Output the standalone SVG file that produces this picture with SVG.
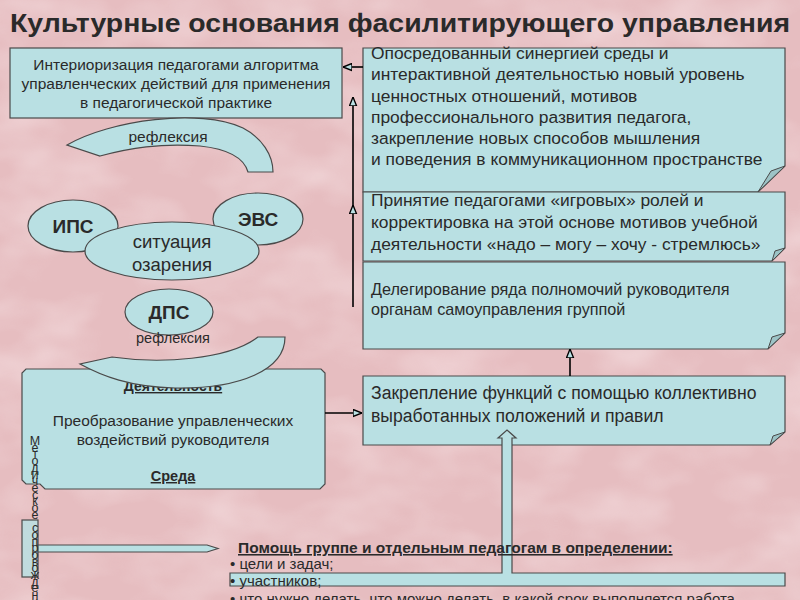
<svg xmlns="http://www.w3.org/2000/svg" width="800" height="600" viewBox="0 0 800 600">
<defs>
<filter id="tex" x="0" y="0" width="100%" height="100%">
<feTurbulence type="fractalNoise" baseFrequency="0.012 0.02" numOctaves="3" seed="7"/>
<feColorMatrix type="matrix" values="0 0 0 0 1  0 0 0 0 0.93  0 0 0 0 0.94  1.4 0 0 0 -0.55"/>
</filter>
<marker id="tri" viewBox="0 0 10 10" refX="10" refY="5" markerWidth="9" markerHeight="9" markerUnits="userSpaceOnUse" orient="auto">
<path d="M0,1 L10,5 L0,9 Z" fill="#b9e0e3" stroke="#000" stroke-width="1.5"/>
</marker>
<style>
.box{fill:#b9e0e3;stroke:#4a4a4a;stroke-width:1.2}
.fold{fill:#9cc3c6;stroke:#4a4a4a;stroke-width:1}
.t{font-family:"Liberation Sans",Arial,sans-serif;fill:#2a2a2a}
.c{text-anchor:middle}
.b{font-weight:bold}
.u{text-decoration:underline}
.ln{stroke:#000;stroke-width:1.6;fill:none}
.vert{writing-mode:vertical-rl;text-orientation:upright;letter-spacing:-7.3px}
</style>
</defs>
<rect width="800" height="600" fill="#e6bdc0"/>
<rect width="800" height="600" filter="url(#tex)" opacity="0.55"/>

<text class="t b" x="10" y="32" font-size="26" fill="#111" textLength="780" lengthAdjust="spacingAndGlyphs">Культурные основания фасилитирующего управления</text>

<g id="n-interior">
<rect class="box" x="10" y="48" width="332" height="70"/>
<text class="t c" font-size="15.5" fill="#333"><tspan x="176" y="70">Интериоризация педагогами алгоритма</tspan><tspan x="176" y="89">управленческих действий для применения</tspan><tspan x="176" y="108">в педагогической практике</tspan></text>
</g>

<g id="n-refl1">
<path class="box" d="M67,145 C110,120 200,108 243,128 C262,138 273,155 273,172 L248,172 C244,158 228,149 200,146 C160,143 130,148 100,156 Z"/>
<text class="t c" x="168" y="142" font-size="15.5" fill="#333">рефлексия</text>
</g>

<g id="n-ips">
<ellipse class="box" cx="73" cy="226" rx="45" ry="26"/>
<text class="t c b" x="73" y="233" font-size="19" fill="#111">ИПС</text>
</g>
<g id="n-evs">
<ellipse class="box" cx="258" cy="219" rx="45" ry="26"/>
<text class="t c b" x="258" y="226" font-size="19" fill="#111">ЭВС</text>
</g>
<g id="n-sit">
<ellipse class="box" cx="172" cy="251" rx="87" ry="29"/>
<text class="t c" font-size="18.5" fill="#333"><tspan x="172" y="248">ситуация</tspan><tspan x="172" y="271">озарения</tspan></text>
</g>
<g id="n-dps">
<ellipse class="box" cx="169" cy="312" rx="44" ry="23"/>
<text class="t c b" x="169" y="319" font-size="19" fill="#111">ДПС</text>
</g>

<g id="n-activity">
<path class="box" d="M26,369 H321 L325,373 V484 L320,489 H45 L40,484 H26 L22,480 V373 Z"/>
<text class="t c b u" x="173" y="391" font-size="14" fill="#111">Деятельность</text>
<text class="t c" font-size="15.5" fill="#333"><tspan x="173" y="426">Преобразование управленческих</tspan><tspan x="173" y="445">воздействий руководителя</tspan></text>
<text class="t c b u" x="173" y="481" font-size="14.5" fill="#111">Среда</text>
</g>

<g id="n-refl2">
<path class="box" d="M258,337 L285,337 C285,370 240,389 175,388 C130,387 102,376 80,364 L112,357 C160,364 228,360 258,337 Z"/>
<text class="t c" x="173" y="343" font-size="14.5" fill="#555">рефлексия</text>
</g>

<g id="n-help-arrow">
<rect class="box" x="22" y="520" width="16" height="57" fill-opacity="0.85"/>
<path class="box" d="M38,545 H207 L218,548.5 L207,552 H38 Z"/>
</g>

<g id="n-side">
<text class="t vert" x="35" y="434" font-size="12.5" fill="#222">Методическое сопровождение</text>
</g>

<g id="n-synergy">
<path class="box" d="M363,48 H785 V166 L758,192 H363 Z"/>
<path class="fold" d="M785,166 L771,171 L758,192 Z"/>
<text class="t" font-size="17.4" fill="#222"><tspan x="371" y="59">Опосредованный синергией среды и</tspan><tspan x="371" y="80">интерактивной деятельностью новый уровень</tspan><tspan x="371" y="102">ценностных отношений, мотивов</tspan><tspan x="371" y="123">профессионального развития педагога,</tspan><tspan x="371" y="144">закрепление новых способов мышления</tspan><tspan x="371" y="165">и поведения в коммуникационном пространстве</tspan></text>
</g>

<g id="n-roles">
<path class="box" d="M363,192 H785 V248 L772,261 H363 Z"/>
<path class="fold" d="M785,248 L775,251 L772,261 Z"/>
<text class="t" font-size="17.4" fill="#222"><tspan x="371" y="206">Принятие педагогами «игровых» ролей и</tspan><tspan x="371" y="228">корректировка на этой основе мотивов учебной</tspan><tspan x="371" y="250">деятельности «надо – могу – хочу - стремлюсь»</tspan></text>
</g>

<g id="n-deleg">
<path class="box" d="M363,262 H785 V333 L768,349 H363 Z"/>
<path class="fold" d="M785,333 L772,337 L768,349 Z"/>
<text class="t" font-size="16.2" fill="#222"><tspan x="371" y="295">Делегирование ряда полномочий руководителя</tspan><tspan x="371" y="315">органам самоуправления группой</tspan></text>
</g>

<g id="n-fix">
<path class="box" d="M363,376 H785 V432 L770,445 H363 Z"/>
<path class="fold" d="M785,432 L773,436 L770,445 Z"/>
<text class="t" font-size="17.6" fill="#222"><tspan x="371" y="399">Закрепление функций с помощью коллективно</tspan><tspan x="371" y="422">выработанных положений и правил</tspan></text>
</g>

<g id="n-help">
<path class="box" d="M230,573 H502 V438 H498 L507,430 L516,438 H512 V573 H785 V586 H230 Z"/>
<text class="t b u" x="238" y="553" font-size="15.5" fill="#111">Помощь группе и отдельным педагогам в определении:</text>
<text class="t" font-size="15" fill="#333"><tspan x="230" y="569">• цели и задач;</tspan><tspan x="230" y="586">• участников;</tspan><tspan x="230" y="604">• что нужно делать, что можно делать, в какой срок выполняется работа</tspan></text>
</g>

<g id="connectors">
<line class="ln" x1="363" y1="67" x2="343" y2="67" marker-end="url(#tri)"/>
<path class="ln" d="M353,307 L353,205 L353,97" marker-mid="url(#tri)" marker-end="url(#tri)"/>
<line class="ln" x1="570" y1="376" x2="570" y2="349" stroke-width="2.2" marker-end="url(#tri)"/>
<line class="ln" x1="325" y1="413" x2="362" y2="413" marker-end="url(#tri)"/>
</g>
</svg>
